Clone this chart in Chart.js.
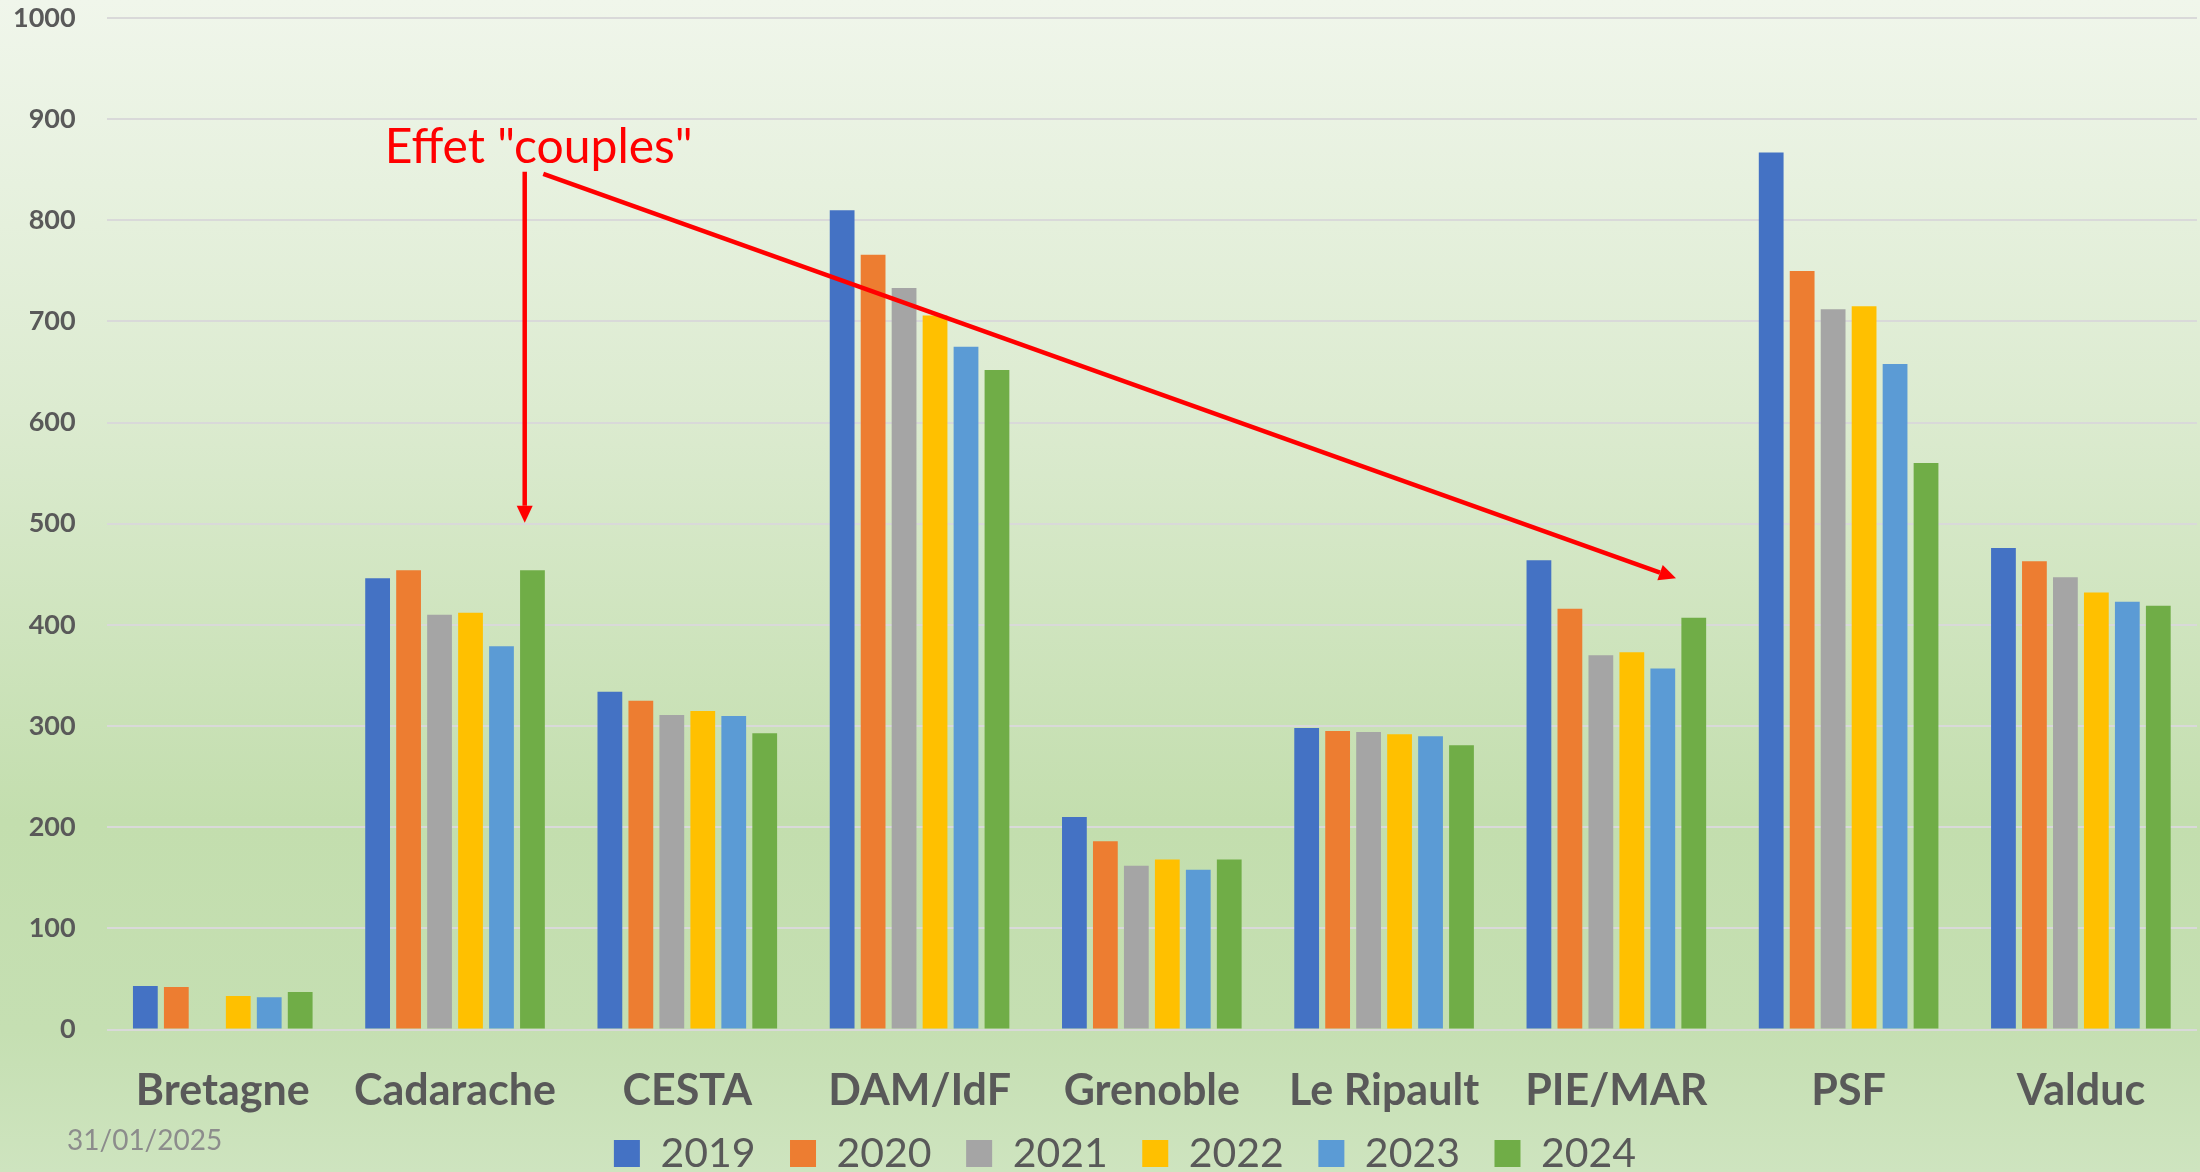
<!DOCTYPE html>
<html lang="fr">
<head>
<meta charset="UTF-8">
<title>Effectifs par centre 2019 - 2024</title>
<script src="https://cdn.jsdelivr.net/npm/chart.js"></script>
<style>
    * {
    margin: 0;
    padding: 0;
    box-sizing: border-box;
    }

    html, body {
    width: 2200px;
    height: 1172px;
    overflow: hidden;
    }

    body {
    font-family: 'Lato', sans-serif;
    background: linear-gradient(to bottom, #f0f6eb 0%, #dcebd0 35%, #c3deae 70%, #c5dfb2 88%, #cee4bf 100%);
    }

    #wrap {
    position: relative;
    width: 2200px;
    height: 1172px;
    }
</style>
</head>
<body>

<div id="wrap">
    <canvas id="chart" width="2200" height="1172"></canvas>
</div>

<script>
    // données
    const categories = ['Bretagne', 'Cadarache', 'CESTA', 'DAM/IdF', 'Grenoble', 'Le Ripault', 'PIE/MAR', 'PSF', 'Valduc'];
    const years = ['2019', '2020', '2021', '2022', '2023', '2024'];

    const values2019 = [43, 446, 334, 810, 210, 298, 464, 867, 476];
    const values2020 = [42, 454, 325, 766, 186, 295, 416, 750, 463];
    const values2021 = [null, 410, 311, 733, 162, 294, 370, 712, 447];
    const values2022 = [33, 412, 315, 706, 168, 292, 373, 715, 432];
    const values2023 = [32, 379, 310, 675, 158, 290, 357, 658, 423];
    const values2024 = [37, 454, 293, 652, 168, 281, 407, 560, 419];

    const yMin = 0;
    const yMax = 1000;
    const yStep = 100;

    const noteText = 'Effet "couples"';
    const dateText = '31/01/2025';

    const yearColors = ['#4472C4', '#ED7D31', '#A5A5A5', '#FFC000', '#5B9BD5', '#70AD47'];
    const allValues = [values2019, values2020, values2021, values2022, values2023, values2024];

    const textGray = '#595959';

    // annotations (position en unités du graphique : index de catégorie, valeur)
    const notePos = { x: 1.36, y: 857 };
    const arrowDown = { from: { x: 1.30, y: 848 }, to: { x: 1.30, y: 501 } };
    const arrowDiag = { from: { x: 1.38, y: 846 }, to: { x: 6.257, y: 446 } };

    function drawArrow(ctx, x1, y1, x2, y2) {
        const ang = Math.atan2(y2 - y1, x2 - x1);
        const head = 17;
        const half = 8;
        ctx.beginPath();
        ctx.moveTo(x1, y1);
        ctx.lineTo(x2 - Math.cos(ang) * head, y2 - Math.sin(ang) * head);
        ctx.stroke();
        ctx.beginPath();
        ctx.moveTo(x2, y2);
        ctx.lineTo(x2 - Math.cos(ang) * head - Math.sin(ang) * half, y2 - Math.sin(ang) * head + Math.cos(ang) * half);
        ctx.lineTo(x2 - Math.cos(ang) * head + Math.sin(ang) * half, y2 - Math.sin(ang) * head - Math.cos(ang) * half);
        ctx.closePath();
        ctx.fill();
    }

    const notesPlugin = {
        id: 'notes',
        afterLayout(chart) {
            // la légende remonte un peu sous les noms de centres
            const lg = chart.legend;
            lg.top -= 15;
            lg.bottom -= 15;
            lg.left += 20;
            lg.right += 20;
        },
        afterDraw(chart) {
            const ctx = chart.ctx;
            const xs = chart.scales.x;
            const ys = chart.scales.y;
            const px = v => xs.getPixelForValue(v);
            const py = v => ys.getPixelForValue(v);

            ctx.save();
            ctx.strokeStyle = '#FF0000';
            ctx.fillStyle = '#FF0000';
            ctx.lineWidth = 4.5;
            drawArrow(ctx, px(arrowDown.from.x), py(arrowDown.from.y), px(arrowDown.to.x), py(arrowDown.to.y));
            drawArrow(ctx, px(arrowDiag.from.x), py(arrowDiag.from.y), px(arrowDiag.to.x), py(arrowDiag.to.y));

            ctx.font = '48px Lato';
            ctx.textAlign = 'center';
            ctx.textBaseline = 'alphabetic';
            ctx.fillText(noteText, px(notePos.x), py(notePos.y));

            // date en bas à gauche
            ctx.font = '28px Lato';
            ctx.fillStyle = '#8c8c8c';
            ctx.textAlign = 'left';
            ctx.textBaseline = 'middle';
            ctx.fillText(dateText, 67, 1141);
            ctx.restore();
        }
    };

    const datasets = years.map((y, i) => ({
        label: y,
        data: allValues[i],
        backgroundColor: yearColors[i],
        borderWidth: 0,
        barPercentage: 0.8,
        categoryPercentage: 0.8
    }));

    new Chart(document.getElementById('chart').getContext('2d'), {
        type: 'bar',
        data: {
            labels: categories,
            datasets: datasets
        },
        options: {
            responsive: false,
            devicePixelRatio: 1,
            animation: false,
            layout: {
                padding: { left: 13, right: 3, top: 18, bottom: -27 }
            },
            scales: {
                x: {
                    grid: { display: false, drawTicks: false },
                    border: { display: false },
                    afterFit: scale => { scale.height = 84; },
                    ticks: {
                        color: textGray,
                        padding: 40,
                        maxRotation: 0,
                        font: { family: 'Lato', weight: 'bold', size: 43, lineHeight: 1 }
                    }
                },
                y: {
                    min: yMin,
                    max: yMax,
                    border: { display: false },
                    grid: { color: '#d9d9d9', lineWidth: 2, drawTicks: true, tickLength: 31, tickColor: 'transparent' },
                    ticks: {
                        stepSize: yStep,
                        color: textGray,
                        padding: 0,
                        font: { family: 'Lato', weight: 'bold', size: 27 },
                        callback: v => String(v)
                    }
                }
            },
            plugins: {
                tooltip: { enabled: false },
                legend: {
                    position: 'bottom',
                    labels: {
                        boxWidth: 26,
                        boxHeight: 27,
                        padding: 34.5,
                        color: textGray,
                        font: { family: 'Lato', size: 41 }
                    }
                }
            }
        },
        plugins: [notesPlugin]
    });
</script>
</body>
</html>
